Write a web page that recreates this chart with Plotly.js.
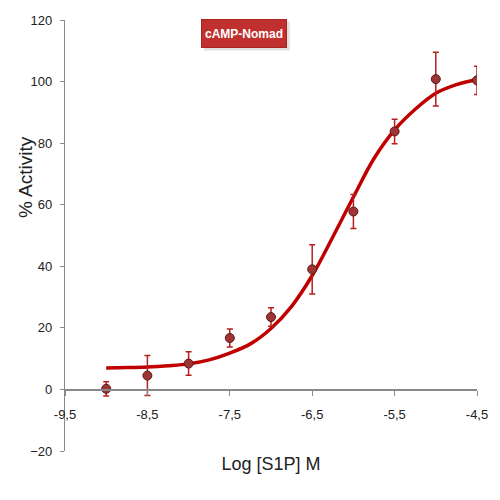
<!DOCTYPE html>
<html>
<head>
<meta charset="utf-8">
<script src="https://cdn.plot.ly/plotly-3.0.1.min.js"></script>
<style>html,body{margin:0;padding:0;background:#fff;}#chart{width:500px;height:500px;}</style>
</head>
<body>
<div id="chart"></div>
<script>
// Measured data points
var logConc = [-9, -8.5, -8, -7.5, -7, -6.5, -6, -5.5, -5, -4.5];
var activity = [0.2, 4.5, 8.4, 16.7, 23.5, 39, 57.8, 83.8, 100.8, 100.4];
var activityErr = [2.3, 6.5, 3.8, 2.9, 3.0, 8.0, 5.5, 4.0, 8.7, 4.6];

// Fitted curve
var curveX = [-9, -8.75, -8.5, -8.25, -8, -7.75, -7.5, -7.25, -7, -6.75, -6.5, -6.25, -6, -5.75, -5.5, -5.25, -5, -4.75, -4.5];
var curveY = [7.0, 7.1, 7.3, 7.7, 8.3, 9.6, 11.8, 14.8, 19.8, 27, 37, 49.5, 62.5, 75, 84.3, 91, 96.2, 99, 100.7];

// Tick labels
var xTickVals = [-9.5, -8.5, -7.5, -6.5, -5.5, -4.5];
var xTickText = ['-9,5', '-8,5', '-7,5', '-6,5', '-5,5', '-4,5'];
var yTickVals = [-20, 0, 20, 40, 60, 80, 100, 120];

var chartTitle = 'cAMP-Nomad';
var xTitle = 'Log [S1P] M';
var yTitle = '% Activity';

var sans = "'Liberation Sans', Arial, sans-serif";

var traces = [
  {
    x: curveX, y: curveY, type: 'scatter', mode: 'lines',
    line: {color: '#c00000', width: 3.5, shape: 'spline'},
    hoverinfo: 'skip', showlegend: false
  },
  {
    x: logConc, y: activity, type: 'scatter', mode: 'markers',
    marker: {size: 9, color: '#9e3535', line: {color: '#5e1414', width: 1}},
    error_y: {type: 'data', array: activityErr, visible: true, color: '#b52020', thickness: 1.5, width: 3},
    showlegend: false
  }
];

var layout = {
  width: 500, height: 500,
  margin: {l: 65, r: 22.5, t: 19.5, b: 49},
  paper_bgcolor: '#ffffff', plot_bgcolor: '#ffffff',
  showlegend: false,
  xaxis: {
    range: [-9.5, -4.5],
    anchor: 'free', position: 20 / 140,
    tickmode: 'array', tickvals: xTickVals, ticktext: xTickText,
    ticks: 'outside', ticklen: 5, tickcolor: '#888888', tickwidth: 1,
    ticklabelstandoff: 8,
    showline: true, linecolor: '#888888', linewidth: 1.2,
    showgrid: false, zeroline: false,
    tickfont: {family: sans, size: 13, color: '#222222'},
    title: {text: xTitle, font: {family: sans, size: 18, color: '#222222'}, standoff: 36}
  },
  yaxis: {
    range: [-20, 120],
    tickmode: 'array', tickvals: yTickVals,
    ticks: 'outside', ticklen: 4, tickcolor: '#888888', tickwidth: 1,
    ticklabelstandoff: 5,
    showline: true, linecolor: '#888888', linewidth: 1.2,
    showgrid: false, zeroline: false,
    tickfont: {family: sans, size: 13, color: '#222222'}
  },
  shapes: [
    {
      type: 'rect', xref: 'paper', yref: 'paper', layer: 'below',
      x0: (204 - 65) / 412.5, x1: (290 - 65) / 412.5,
      y0: (451 - 50) / 431.5, y1: (451 - 21) / 431.5,
      fillcolor: 'rgba(0,0,0,0.12)', line: {width: 0}
    }
  ],
  annotations: [
    {
      text: yTitle, xref: 'paper', yref: 'y', x: 0, y: 69, xshift: -40,
      xanchor: 'center', yanchor: 'middle',
      textangle: -90, showarrow: false,
      font: {family: sans, size: 19, color: '#222222'}
    },
    {
      text: '<b>' + chartTitle + '</b>', xref: 'paper', yref: 'paper',
      x: 0.434, y: 0.969, xanchor: 'center', yanchor: 'middle', showarrow: false,
      bgcolor: '#c0302e', bordercolor: '#a82424', borderwidth: 1, borderpad: 3,
      width: 78, height: 21,
      font: {family: sans, size: 12, color: '#ffffff'}
    }
  ]
};

Plotly.newPlot('chart', traces, layout, {displayModeBar: false, staticPlot: true});
</script>
</body>
</html>
